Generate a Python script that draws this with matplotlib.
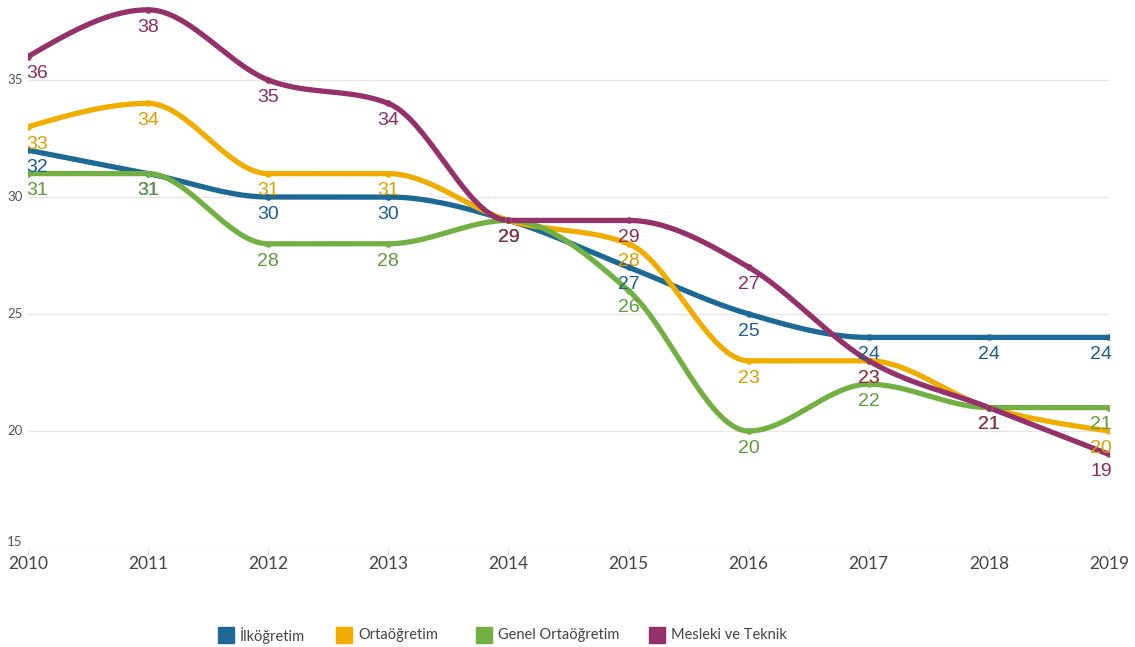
import numpy as np
import matplotlib
matplotlib.use("Agg")
import matplotlib.pyplot as plt
from matplotlib.patches import Rectangle

years = [2010, 2011, 2012, 2013, 2014, 2015, 2016, 2017, 2018, 2019]
series_names = ["İlköğretim", "Ortaöğretim", "Genel Ortaöğretim", "Mesleki ve Teknik"]
ilkogretim = [32, 31, 30, 30, 29, 27, 25, 24, 24, 24]
ortaogretim = [33, 34, 31, 31, 29, 28, 23, 23, 21, 20]
genel_ortaogretim = [31, 31, 28, 28, 29, 26, 20, 22, 21, 21]
mesleki_teknik = [36, 38, 35, 34, 29, 29, 27, 23, 21, 19]
y_ticks = [15, 20, 25, 30, 35]

line_colors = ["#1d6996", "#f0ad00", "#72b043", "#94306a"]
label_colors = ["#1b5f8a", "#dba000", "#5e9a3a", "#8a2b62"]
all_series = [ilkogretim, ortaogretim, genel_ortaogretim, mesleki_teknik]


def monotone_curve(x, y, n=40):
    x = np.asarray(x, float)
    y = np.asarray(y, float)
    h = np.diff(x)
    s = np.diff(y) / h
    m = np.zeros_like(y)
    for i in range(1, len(x) - 1):
        h0, h1 = h[i - 1], h[i]
        s0, s1 = s[i - 1], s[i]
        p = (s0 * h1 + s1 * h0) / (h0 + h1)
        m[i] = (np.sign(s0) + np.sign(s1)) * min(abs(s0), abs(s1), 0.5 * abs(p))
    m[0] = (3 * s[0] - m[1]) / 2
    m[-1] = (3 * s[-1] - m[-2]) / 2
    xs, ys = [], []
    for i in range(len(x) - 1):
        t = np.linspace(0, 1, n)
        hh = h[i]
        h00 = 2 * t**3 - 3 * t**2 + 1
        h10 = t**3 - 2 * t**2 + t
        h01 = -2 * t**3 + 3 * t**2
        h11 = t**3 - t**2
        xs.append(x[i] + t * hh)
        ys.append(h00 * y[i] + h10 * hh * m[i] + h01 * y[i + 1] + h11 * hh * m[i + 1])
    return np.concatenate(xs), np.concatenate(ys)


W, H = 1135, 647
fig = plt.figure(figsize=(W / 100, H / 100), dpi=100)
ax = fig.add_axes([28 / W, (H - 548) / H, (1109 - 28) / W, 548 / H])
ax.set_xlim(2010, 2019)
ax.set_ylim(15, 15 + 548 / 23.4)

for yt in y_ticks:
    ax.axhline(yt, color="#e6e6e6", lw=1, zorder=0)

for vals, c in zip(all_series, line_colors):
    cx, cy = monotone_curve(years, vals)
    ax.plot(cx, cy, color=c, lw=3.8, solid_capstyle="round", zorder=2)
    ax.scatter(years, vals, s=22, color=c, zorder=2.5, linewidths=0)

for vals, c in zip(all_series, label_colors):
    for i, (xv, yv) in enumerate(zip(years, vals)):
        if i == 0:
            ha, dx = "left", -1
        elif i == len(years) - 1:
            ha, dx = "right", 2
        else:
            ha, dx = "center", 0
        ax.annotate(str(yv), (xv, yv), xytext=(dx, -12.5), textcoords="offset points",
                    ha=ha, va="center", fontsize=14, color=c,
                    family="Liberation Sans", zorder=5)

for s in ax.spines.values():
    s.set_visible(False)
ax.set_xticks(years)
ax.set_xticklabels([str(y) for y in years], fontsize=12.5, color="#444444", family="Lato")
ax.tick_params(axis="x", length=6, color="#e6e6e6", pad=0)
ax.set_yticks(y_ticks)
ax.set_yticklabels([str(y) for y in y_ticks], fontsize=9.5, color="#555555", family="Lato")
ax.tick_params(axis="y", length=0, pad=4)
for lbl in ax.get_yticklabels():
    lbl.set_va("center")
ax.get_yticklabels()[0].set_va("bottom")

# legend
leg_x = [218, 336, 476, 649]
for name, c, lx in zip(series_names, line_colors, leg_x):
    fig.patches.append(Rectangle((lx / W, (H - 643) / H), 16 / W, 16 / H,
                                 transform=fig.transFigure, color=c))
    fig.text((lx + 22) / W, (H - 635) / H, name, fontsize=10.5, color="#444444",
             family="Lato", va="center", ha="left")

fig.savefig("out.png", dpi=100)
